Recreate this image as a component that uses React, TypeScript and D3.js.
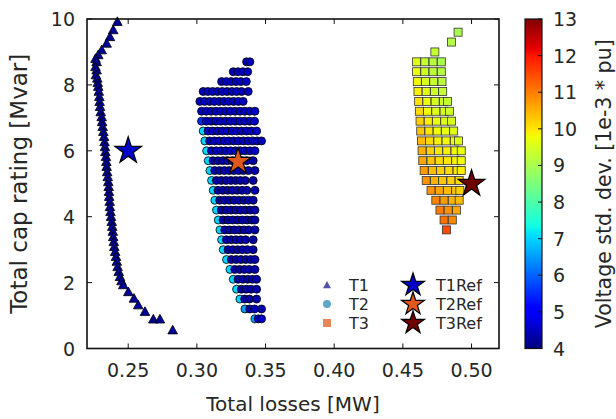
import React from "react";
import * as d3 from "d3";

const W = 616;
const H = 419;
const PL = 87, PR = 499, PT = 19, PB = 348.5;
const CBL = 525, CBR = 542;

const xTicks = [0.25, 0.3, 0.35, 0.4, 0.45, 0.5];
const yTicks = [0, 2, 4, 6, 8, 10];
const cbTicks = [4, 5, 6, 7, 8, 9, 10, 11, 12, 13];

// T1 (triangles)
const t1X = [0.2421, 0.2391, 0.2367, 0.2343, 0.2307, 0.2282, 0.2262, 0.227, 0.2262, 0.227, 0.2265, 0.2275, 0.2278, 0.2282, 0.2286, 0.229, 0.2292, 0.2295, 0.23, 0.2307, 0.231, 0.2314, 0.2319, 0.2324, 0.2328, 0.2331, 0.2334, 0.2338, 0.2341, 0.2343, 0.2347, 0.2351, 0.2355, 0.2358, 0.236, 0.2362, 0.2365, 0.2367, 0.2371, 0.2375, 0.238, 0.2384, 0.2388, 0.2391, 0.2395, 0.2399, 0.2405, 0.2411, 0.2417, 0.2423, 0.2431, 0.244, 0.2451, 0.2464, 0.2501, 0.2542, 0.2573, 0.2622, 0.2683, 0.2731, 0.2824];
const t1Y = [9.92, 9.67, 9.46, 9.26, 9.06, 8.91, 8.8, 8.7, 8.55, 8.45, 8.3, 8.2, 8.07, 7.95, 7.8, 7.64, 7.49, 7.34, 7.18, 7.03, 6.88, 6.73, 6.58, 6.43, 6.27, 6.12, 5.97, 5.82, 5.67, 5.52, 5.36, 5.21, 5.06, 4.91, 4.76, 4.61, 4.46, 4.3, 4.15, 4.0, 3.85, 3.7, 3.55, 3.39, 3.24, 3.09, 2.94, 2.79, 2.64, 2.48, 2.33, 2.18, 2.05, 1.93, 1.72, 1.52, 1.32, 1.12, 0.89, 0.89, 0.56];
const t1Volt = 4.2;

// T2 (circles) rows
const t2RowY = [8.7, 8.4, 8.1, 7.8, 7.5, 7.2, 6.9, 6.6, 6.3, 6.0, 5.7, 5.4, 5.1, 4.8, 4.5, 4.2, 3.9, 3.6, 3.3, 3.0, 2.7, 2.4, 2.1, 1.8, 1.5, 1.2, 0.9];
const t2RowX = [
  [0.3362, 0.3386],
  [0.3265, 0.33, 0.3335, 0.337],
  [0.318, 0.3215, 0.325, 0.3285, 0.332, 0.336],
  [0.3046, 0.308, 0.3115, 0.315, 0.3185, 0.322, 0.3255, 0.329, 0.3325, 0.3374],
  [0.3022, 0.3057, 0.3092, 0.3127, 0.3162, 0.3197, 0.3232, 0.3267, 0.3302, 0.3337],
  [0.3034, 0.3069, 0.3104, 0.3139, 0.3174, 0.3209, 0.3244, 0.3279, 0.3314, 0.3349, 0.3384, 0.3423],
  [0.3034, 0.3069, 0.3104, 0.3139, 0.3174, 0.3209, 0.3244, 0.3279, 0.3314, 0.3349, 0.3384, 0.342],
  [0.3046, 0.3081, 0.3116, 0.3151, 0.3186, 0.3221, 0.3256, 0.3291, 0.3326, 0.3361, 0.3396, 0.3435],
  [0.3058, 0.3093, 0.3128, 0.3163, 0.3198, 0.3233, 0.3268, 0.3303, 0.3338, 0.3373, 0.3408, 0.344, 0.3471],
  [0.3071, 0.3106, 0.3141, 0.3176, 0.3211, 0.3246, 0.3281, 0.3316, 0.3351, 0.3386, 0.3423],
  [0.3083, 0.3118, 0.3153, 0.3188, 0.3223, 0.3258, 0.3293, 0.3328, 0.3363, 0.341],
  [0.3095, 0.313, 0.3165, 0.32, 0.3235, 0.327, 0.3305, 0.334, 0.3375, 0.3423],
  [0.3107, 0.3142, 0.3177, 0.3212, 0.3247, 0.3282, 0.3317, 0.3352, 0.341],
  [0.3119, 0.3154, 0.3189, 0.3224, 0.3259, 0.3294, 0.3329, 0.3364, 0.3423],
  [0.3131, 0.3166, 0.3201, 0.3236, 0.3271, 0.3306, 0.3341, 0.3376, 0.341],
  [0.3143, 0.3178, 0.3213, 0.3248, 0.3283, 0.3318, 0.3353, 0.3388, 0.3423],
  [0.3156, 0.3191, 0.3226, 0.3261, 0.3296, 0.3331, 0.3366, 0.3401, 0.3423],
  [0.3168, 0.3203, 0.3238, 0.3273, 0.3308, 0.3343, 0.3378, 0.3423],
  [0.318, 0.3215, 0.325, 0.3285, 0.332, 0.3355, 0.341],
  [0.3192, 0.3227, 0.3262, 0.3297, 0.3332, 0.3367, 0.341],
  [0.3216, 0.3251, 0.3286, 0.3321, 0.3356, 0.3391, 0.3423],
  [0.3241, 0.3276, 0.3311, 0.3346, 0.3381, 0.3423],
  [0.3265, 0.33, 0.3335, 0.337, 0.3405, 0.3435],
  [0.3289, 0.3324, 0.3359, 0.3394, 0.3435],
  [0.3313, 0.3348, 0.3383, 0.3435],
  [0.335, 0.3385, 0.342, 0.3471],
  [0.3423, 0.3447, 0.3471],
];
const t2EdgeVolt = [4.5, 4.5, 4.5, 4.5, 4.5, 4.6, 5.5, 7.0, 7.0, 7.0, 7.0, 7.0, 7.0, 7.0, 7.0, 7.0, 7.0, 7.0, 7.0, 7.0, 7.0, 7.0, 7.0, 7.0, 7.0, 6.5, 6.5];
const t2BodyVolt = [4.5, 4.5, 4.5, 4.5, 4.5, 4.5, 4.5, 4.5, 4.5, 4.5, 4.3, 4.3, 4.3, 4.3, 4.3, 4.3, 4.3, 4.3, 4.3, 4.3, 4.3, 4.3, 4.3, 4.3, 4.3, 4.4, 4.6];

// T3 (squares) rows
const t3RowY = [9.6, 9.3, 9.0, 8.7, 8.4, 8.1, 7.8, 7.5, 7.2, 6.9, 6.6, 6.3, 6.0, 5.7, 5.4, 5.1, 4.8, 4.5, 4.2, 3.9, 3.6];
const t3RowX = [
  [0.4902],
  [0.4854],
  [0.4733],
  [0.46, 0.466, 0.472, 0.478],
  [0.46, 0.466, 0.472, 0.478],
  [0.4605, 0.4665, 0.4725, 0.4785],
  [0.461, 0.467, 0.473, 0.479],
  [0.4615, 0.4675, 0.4735, 0.4795, 0.4825],
  [0.462, 0.468, 0.474, 0.48, 0.484],
  [0.4625, 0.4685, 0.4745, 0.4805, 0.4855],
  [0.463, 0.469, 0.475, 0.481, 0.487],
  [0.4635, 0.4695, 0.4755, 0.4815, 0.4875, 0.4905],
  [0.464, 0.47, 0.476, 0.482, 0.488, 0.4925],
  [0.4645, 0.4705, 0.4765, 0.4825, 0.4885, 0.4925],
  [0.4655, 0.4715, 0.4775, 0.4835, 0.4895, 0.4925],
  [0.467, 0.473, 0.479, 0.485, 0.491],
  [0.4705, 0.4765, 0.4825, 0.4885, 0.4915],
  [0.474, 0.48, 0.486, 0.491],
  [0.477, 0.483, 0.489],
  [0.48, 0.486],
  [0.4818],
];
const t3RowVolt = [
  [9.0],
  [9.1],
  [9.3],
  [9.6, 9.3, 9.1, 9.0],
  [9.7, 9.4, 9.2, 9.1],
  [9.8, 9.5, 9.3, 9.2],
  [9.9, 9.6, 9.4, 9.3],
  [10.0, 9.7, 9.5, 9.4, 9.3],
  [10.1, 9.8, 9.6, 9.5, 9.4],
  [10.2, 9.9, 9.7, 9.6, 9.5],
  [10.3, 10.0, 9.8, 9.7, 9.6],
  [10.4, 10.1, 9.9, 9.8, 9.7, 9.6],
  [10.5, 10.2, 10.0, 9.9, 9.8, 9.7],
  [10.6, 10.3, 10.1, 10.0, 9.9, 9.8],
  [10.7, 10.4, 10.2, 10.1, 10.0, 9.9],
  [10.8, 10.5, 10.3, 10.2, 10.1],
  [10.8, 10.6, 10.4, 10.3, 10.2],
  [10.9, 10.7, 10.5, 10.4],
  [11.0, 10.8, 10.6],
  [11.1, 10.9],
  [11.5],
];

// Reference stars
const refNames = ["T1Ref", "T2Ref", "T3Ref"];
const refX = [0.25, 0.33, 0.5];
const refY = [6.0, 5.67, 5.0];
const refColors = ["#0000c8", "#e2581c", "#6e0000"];

const seriesNames = ["T1", "T2", "T3"];
const seriesLegendColors = ["#5252a8", "#5fa8c8", "#e58658"];

// matplotlib jet
const jetR: [number, number][] = [[0, 0], [0.35, 0], [0.66, 1], [0.89, 1], [1, 0.5]];
const jetG: [number, number][] = [[0, 0], [0.125, 0], [0.375, 1], [0.64, 1], [0.91, 0], [1, 0]];
const jetB: [number, number][] = [[0, 0.5], [0.11, 1], [0.34, 1], [0.65, 0], [1, 0]];
function seg(p: [number, number][], t: number) {
  if (t <= p[0][0]) return p[0][1];
  for (let i = 1; i < p.length; i++) {
    if (t <= p[i][0]) {
      const [x0, y0] = p[i - 1];
      const [x1, y1] = p[i];
      return y0 + ((t - x0) / (x1 - x0)) * (y1 - y0);
    }
  }
  return p[p.length - 1][1];
}
function jet(t: number) {
  const c = Math.max(0, Math.min(1, t));
  return d3.rgb(seg(jetR, c) * 255, seg(jetG, c) * 255, seg(jetB, c) * 255).formatHex();
}

const FONT = "'DejaVu Sans', 'Liberation Sans', sans-serif";
const TXT = "#262626";

export default function App() {
  const x = d3.scaleLinear().domain([0.22, 0.52]).range([PL, PR]);
  const y = d3.scaleLinear().domain([0, 10]).range([PB, PT]);
  const vNorm = d3.scaleLinear().domain([4, 13]).range([0, 1]);
  const color = (v: number) => jet(vNorm(v));
  const cbY = d3.scaleLinear().domain([4, 13]).range([PB, PT]);

  const star = (r: number) => d3.symbol().type(d3.symbolStar).size((r * r) / 0.8908130915292852)();
  const tri = (r: number) => `M0,${-r}L${r},${r * 0.8}L${-r},${r * 0.8}Z`;

  const t2pts: { x: number; y: number; v: number }[] = [];
  t2RowY.forEach((yy, i) => {
    t2RowX[i].forEach((xx, j) => {
      t2pts.push({ x: xx, y: yy, v: j === 0 ? t2EdgeVolt[i] : t2BodyVolt[i] });
    });
  });
  const t3pts: { x: number; y: number; v: number }[] = [];
  t3RowY.forEach((yy, i) => {
    t3RowX[i].forEach((xx, j) => {
      t3pts.push({ x: xx, y: yy, v: t3RowVolt[i][j] });
    });
  });

  const gradStops = d3.range(0, 101).map((i) => i / 100);
  const sq = 8;

  return (
    <svg width={W} height={H} style={{ display: "block", position: "absolute", left: 0, top: 0, background: "#fff" }} fontFamily={FONT}>
      <defs>
        <linearGradient id="jetgrad" x1="0" y1="1" x2="0" y2="0">
          {gradStops.map((t) => (
            <stop key={t} offset={t} stopColor={jet(t)} />
          ))}
        </linearGradient>
      </defs>

      {/* T1 */}
      <g>
        {t1X.map((xx, i) => (
          <path key={"t1" + i} d={tri(4.8)} transform={`translate(${x(xx)},${y(t1Y[i])})`} fill={color(t1Volt)} stroke="#000" strokeWidth={0.8} />
        ))}
      </g>
      {/* T2 */}
      <g>
        {t2pts.map((p, i) => (
          <circle key={"t2" + i} cx={x(p.x)} cy={y(p.y)} r={4} fill={color(p.v)} stroke="#000" strokeWidth={0.8} />
        ))}
      </g>
      {/* T3 */}
      <g>
        {t3pts.map((p, i) => (
          <rect key={"t3" + i} x={x(p.x) - sq / 2} y={y(p.y) - sq / 2} width={sq} height={sq} fill={color(p.v)} stroke="#333" strokeWidth={0.8} />
        ))}
      </g>
      {/* Ref stars */}
      <g>
        {refX.map((xx, i) => (
          <path key={"ref" + i} d={star(14)} transform={`translate(${x(xx)},${y(refY[i])})`} fill={refColors[i]} stroke="#000" strokeWidth={1.2} />
        ))}
      </g>

      {/* Legend */}
      <g fontSize={16} fill={TXT}>
        {seriesNames.map((n, i) => {
          const ly = 285 + i * 19;
          return (
            <g key={n}>
              {i === 0 && <path d={tri(4)} transform={`translate(327,${ly})`} fill={seriesLegendColors[i]} />}
              {i === 1 && <circle cx={327} cy={ly} r={4} fill={seriesLegendColors[i]} />}
              {i === 2 && <rect x={327 - 4} y={ly - 4} width={8} height={8} fill={seriesLegendColors[i]} />}
              <text x={349} y={ly} dominantBaseline="central">{n}</text>
            </g>
          );
        })}
        {refNames.map((n, i) => {
          const ly = 285 + i * 19;
          return (
            <g key={n}>
              <path d={star(12)} transform={`translate(413,${ly})`} fill={refColors[i]} stroke="#000" strokeWidth={1.2} />
              <text x={436} y={ly} dominantBaseline="central">{n}</text>
            </g>
          );
        })}
      </g>

      {/* Axes frame and ticks */}
      <rect x={PL} y={PT} width={PR - PL} height={PB - PT} fill="none" stroke="#111" strokeWidth={1.6} />
      <g stroke="#111" strokeWidth={1}>
        {xTicks.map((t) => (
          <g key={"xt" + t}>
            <line x1={x(t)} x2={x(t)} y1={PB} y2={PB - 5} />
            <line x1={x(t)} x2={x(t)} y1={PT} y2={PT + 5} />
          </g>
        ))}
        {yTicks.map((t) => (
          <g key={"yt" + t}>
            <line x1={PL} x2={PL + 5} y1={y(t)} y2={y(t)} />
            <line x1={PR} x2={PR - 5} y1={y(t)} y2={y(t)} />
          </g>
        ))}
      </g>
      <g fontSize={19} fill={TXT}>
        {xTicks.map((t) => (
          <text key={"xl" + t} x={x(t)} y={377} textAnchor="middle">{d3.format(".2f")(t)}</text>
        ))}
        {yTicks.map((t) => (
          <text key={"yl" + t} x={75} y={y(t)} textAnchor="end" dominantBaseline="central">{t}</text>
        ))}
      </g>
      <text x={(PL + PR) / 2} y={404} textAnchor="middle" dominantBaseline="central" fontSize={20} fill={TXT}>Total losses [MW]</text>
      <text transform={`translate(19,${(PT + PB) / 2}) rotate(-90)`} textAnchor="middle" dominantBaseline="central" fontSize={23} fill={TXT}>Total cap rating [Mvar]</text>

      {/* Colorbar */}
      <rect x={CBL} y={PT} width={CBR - CBL} height={PB - PT} fill="url(#jetgrad)" stroke="#111" strokeWidth={1.2} />
      <g stroke="#111" strokeWidth={1}>
        {cbTicks.map((t) => (
          <line key={"cbt" + t} x1={CBR} x2={CBR - 4} y1={cbY(t)} y2={cbY(t)} />
        ))}
      </g>
      <g fontSize={19} fill={TXT}>
        {cbTicks.map((t) => (
          <text key={"cbl" + t} x={553} y={cbY(t)} dominantBaseline="central">{t}</text>
        ))}
      </g>
      <text transform={`translate(604,${(PT + PB) / 2}) rotate(-90)`} textAnchor="middle" dominantBaseline="central" fontSize={20.5} fill={TXT}>Voltage std. dev. [1e-3 * pu]</text>
    </svg>
  );
}
